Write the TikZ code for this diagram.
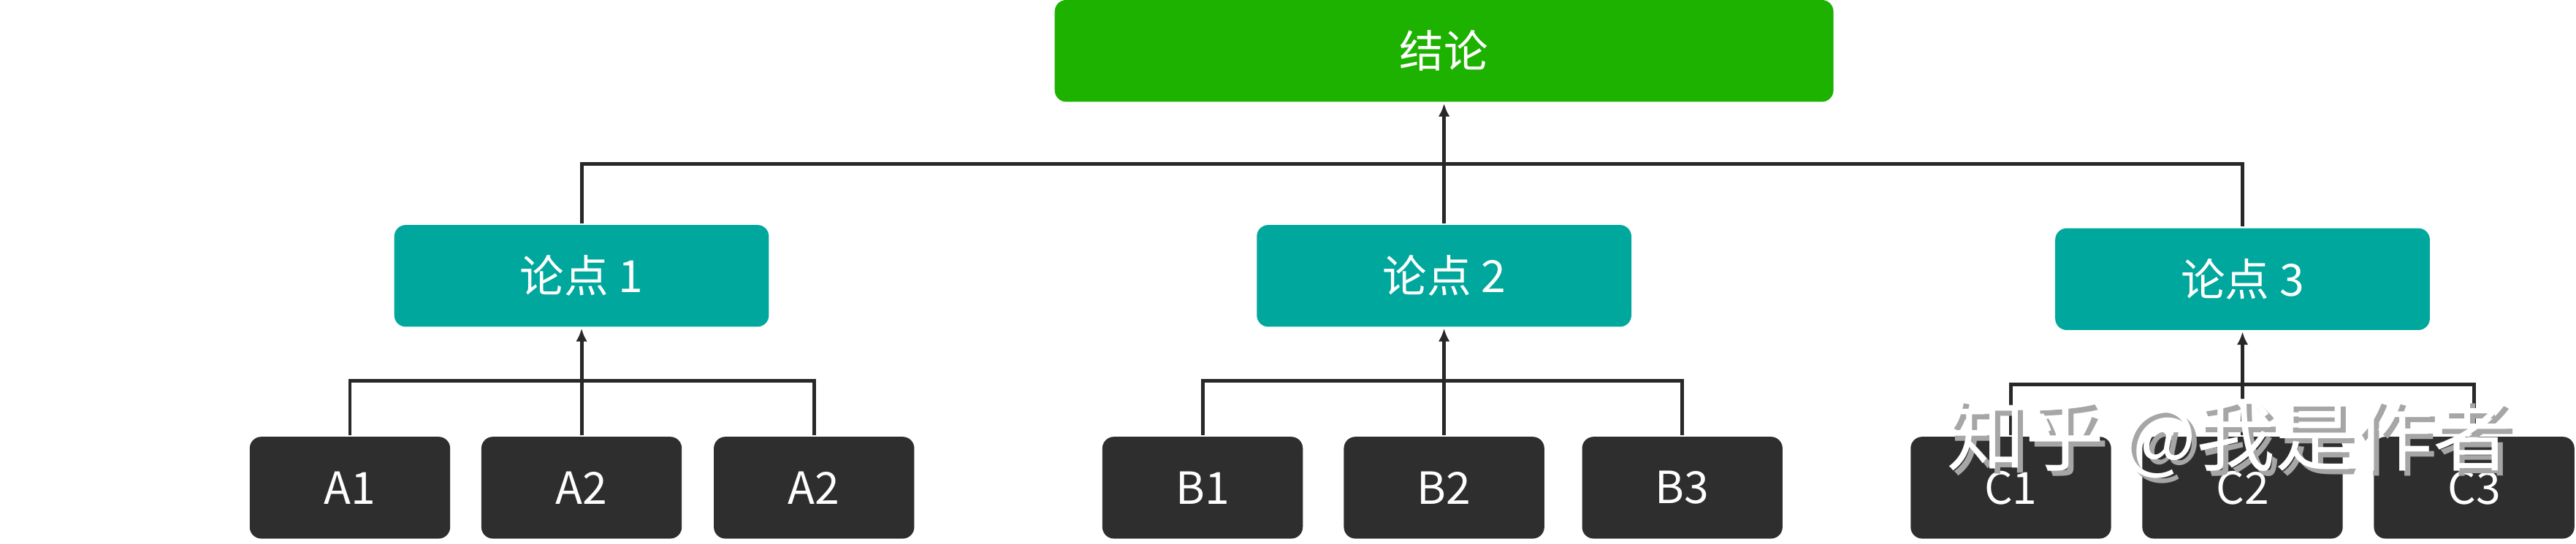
\documentclass[tikz,border=0pt]{standalone}
\usepackage{fontspec}
\setmainfont{Noto Sans CJK SC}
\usetikzlibrary{arrows.meta}
\definecolor{topgreen}{RGB}{29,177,0}
\definecolor{midteal}{RGB}{0,167,157}
\definecolor{leafdark}{RGB}{45,46,45}
\definecolor{linedark}{RGB}{40,40,40}
\tikzset{every picture/.style={line width=2pt}}
\tikzset{
  box/.style={rounded corners=7pt,text=white,inner sep=0pt,font=\fontsize{27}{30}\selectfont},
  topbox/.style={box,fill=topgreen,minimum width=474pt,minimum height=62pt},
  midbox/.style={box,fill=midteal,minimum width=228pt,minimum height=62pt},
  leaf/.style={box,fill=leafdark,minimum width=122pt,minimum height=62pt},
  link/.style={draw=linedark,line width=2.2pt},
  up/.style={link,-{Latex[length=8pt,width=7pt]}}
}
\begin{document}
\begin{tikzpicture}[x=1pt,y=1pt,yscale=-1]
\useasboundingbox (0,0) rectangle (1568,331);

%main nodes
\node[topbox] (concl) at (879,31) {结论};
\node[midbox] (p1) at (354,168) {论点 1};
\node[midbox] (p2) at (879,168) {论点 2};
\node[midbox] (p3) at (1365,170) {论点 3};

%leaves
\node[leaf] (a1) at (213,297) {A1};
\node[leaf] (a2) at (354,297) {A2};
\node[leaf] (a3) at (495.5,297) {A2};
\node[leaf] (b1) at (732,297) {B1};
\node[leaf] (b2) at (879,297) {B2};
\node[leaf] (b3) at (1024,297) {B3};
\node[leaf] (c1) at (1224,297) {C1};
\node[leaf] (c2) at (1365,297) {C2};
\node[leaf] (c3) at (1506,297) {C3};

%junctions
\coordinate (jtop) at (879,100);
\coordinate (ja) at (354,232);
\coordinate (jb) at (879,232);
\coordinate (jc) at (1365,234);

%connectors
\draw[up] (p2.north) -- (concl.south);
\draw[link] (p1.north) |- (jtop) -- (jtop -| p3.north) -- (p3.north);

\draw[up] (a2.north) -- (p1.south);
\draw[link] (a1.north) |- (ja) -| (a3.north);
\draw[up] (b2.north) -- (p2.south);
\draw[link] (b1.north) |- (jb) -| (b3.north);
\draw[up] (c2.north) -- (p3.south);
\draw[link] (c1.north) |- (jc) -| (c3.north);

%watermark
\node[text=black!35,font=\fontsize{48}{52}\selectfont] (wmshadow) at (1360,270) {知乎 @我是作者};
\node[text=white,font=\fontsize{48}{52}\selectfont] (wm) at (1357,267) {知乎 @我是作者};
\end{tikzpicture}
\end{document}
